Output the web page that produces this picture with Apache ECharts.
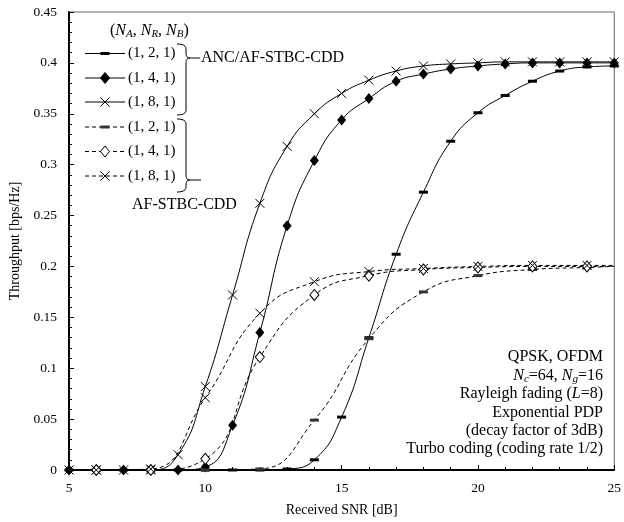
<!DOCTYPE html>
<html><head><meta charset="utf-8">
<script src="https://cdn.jsdelivr.net/npm/echarts@6/dist/echarts.min.js"></script>
<style>html,body{margin:0;padding:0;background:#fff}#c{width:624px;height:522px}</style>
</head><body><div id="c"></div>
<script>
// ---- data ----
const snrANC = [5,6,7,8,9,10,11,12,13,14,15,16,17,18,19,20,21,22,23,24,25];
const anc121 = [0,0,0,0,0,0,0,0,0.001,0.010,0.052,0.130,0.212,0.273,0.323,0.351,0.368,0.382,0.392,0.396,0.397];
const anc141 = [0,0,0,0,0,0.003,0.044,0.135,0.240,0.304,0.344,0.365,0.382,0.389,0.394,0.397,0.399,0.400,0.400,0.400,0.400];
const anc181 = [0,0,0,0,0.015,0.082,0.172,0.262,0.318,0.350,0.370,0.383,0.392,0.397,0.399,0.400,0.401,0.401,0.401,0.401,0.401];
const snrAF = [5,6,8,10,12,14,16,18,20,22,24,25];
const af121 = [0,0,0,0,0.001,0.049,0.129,0.175,0.191,0.197,0.199,0.200];
const af141 = [0,0,0,0.011,0.111,0.172,0.191,0.197,0.199,0.200,0.200,0.200];
const af181 = [0,0,0.001,0.071,0.154,0.185,0.195,0.198,0.200,0.201,0.201,0.201];
const legendLabels = ['(1, 2, 1)', '(1, 4, 1)', '(1, 8, 1)'];
const xTicks = {min:5, max:25, step:5};
const yTicks = {min:0, max:0.45, step:0.05};

const FONT = 'Liberation Serif';
const XSYM = 'path://M0,0 L10,10 M10,0 L0,10';

function mk(name, xs, ys, dashed, sym, size, fill, evenOnly) {
  return {
    name: name, type: 'line', smooth: 0.5,
    showSymbol: true, showAllSymbol: true, symbol: sym, symbolSize: size,
    lineStyle: {color: '#000', width: 1, type: dashed ? [4,3] : 'solid'},
    itemStyle: {color: fill, borderColor: '#000', borderWidth: sym === XSYM ? 1 : (fill === '#fff' ? 1 : 0)},
    emphasis: {disabled: true},
    data: xs.map((x,i) => evenOnly && x % 2 ? {value:[x, ys[i]], symbol:'none'} : [x, ys[i]])
  };
}

const series = [
  mk('ANC (1, 2, 1)', snrANC, anc121, false, 'rect', [9,3], '#000', false),
  mk('ANC (1, 4, 1)', snrANC, anc141, false, 'diamond', [9,11], '#000', false),
  mk('ANC (1, 8, 1)', snrANC, anc181, false, XSYM, 9, '#000', false),
  mk('AF (1, 2, 1)', snrAF, af121, true, 'rect', [9,3], '#333', true),
  mk('AF (1, 4, 1)', snrAF, af141, true, 'diamond', [9,11], '#fff', true),
  mk('AF (1, 8, 1)', snrAF, af181, true, XSYM, 9, '#000', true)
];

// ---- manual legend (key graphics) ----
function legendRow(y, kind, dashed, fill) {
  const els = [{type: 'line', shape: {x1: 85, y1: y, x2: 125, y2: y},
    style: {stroke: '#000', lineWidth: 1, lineDash: dashed ? [4,3] : null}}];
  const cx = 105;
  if (kind === 'rect') {
    els.push({type: 'rect', shape: {x: cx - 4.5, y: y - 1.5, width: 9, height: 3}, style: {fill: fill}});
  } else if (kind === 'diamond') {
    els.push({type: 'polygon', shape: {points: [[cx, y-5.5],[cx+4.5, y],[cx, y+5.5],[cx-4.5, y]]},
      style: {fill: fill, stroke: '#000', lineWidth: 1}});
  } else {
    els.push({type: 'line', shape: {x1: cx-4.5, y1: y-4.5, x2: cx+4.5, y2: y+4.5}, style: {stroke: '#000', lineWidth: 1}});
    els.push({type: 'line', shape: {x1: cx-4.5, y1: y+4.5, x2: cx+4.5, y2: y-4.5}, style: {stroke: '#000', lineWidth: 1}});
  }
  return els;
}
const rowsY = [53.5, 78, 102, 127, 151.5, 176];
const rowKinds = ['rect', 'diamond', 'x'];
const rowFills = [['#000', '#000', '#000'], ['#333', '#fff', '#000']];
let legendEls = [];
rowsY.forEach((y, k) => {
  const g = k < 3 ? 0 : 1, j = k % 3;
  legendEls = legendEls.concat(legendRow(y, rowKinds[j], g === 1, rowFills[g][j]));
  legendEls.push({type: 'text', x: 128, y: y, style: {text: legendLabels[j], fontFamily: FONT, fontSize: 15, fill: '#000', verticalAlign: 'middle'}});
});

function quad(p0, c, p1, n) {
  const pts = [];
  for (let k = 0; k <= n; k++) {
    const t = k / n, a = (1-t)*(1-t), b = 2*(1-t)*t, d = t*t;
    pts.push([a*p0[0] + b*c[0] + d*p1[0], a*p0[1] + b*c[1] + d*p1[1]]);
  }
  return pts;
}
function brace(x0, x1, x2, x3, top, tip, bot) {
  const r = 5;
  let pts = [];
  pts = pts.concat(quad([x0,top],[x1,top],[x1,top+r],6));
  pts = pts.concat(quad([x1,tip-r],[x1,tip],[x2,tip],6));
  pts = pts.concat(quad([x2,tip],[x1,tip],[x1,tip+r],6));
  pts = pts.concat(quad([x1,bot-r],[x1,bot],[x0,bot],6));
  return [
    {type: 'polyline', shape: {points: pts}, style: {fill: null, stroke: '#000', lineWidth: 1}},
    {type: 'line', shape: {x1: x2, y1: tip, x2: x3, y2: tip}, style: {stroke: '#000', lineWidth: 1}}
  ];
}

const chart = echarts.init(document.getElementById('c'), null, {renderer: 'canvas'});
chart.setOption({
  animation: false,
  backgroundColor: '#fff',
  grid: {left: 66, right: 8, top: 12, bottom: 50, show: true, borderColor: '#666', borderWidth: 1},
  xAxis: {
    type: 'value', min: xTicks.min, max: xTicks.max, interval: xTicks.step,
    name: 'Received SNR [dB]', nameLocation: 'middle', nameGap: 33,
    nameTextStyle: {fontFamily: FONT, fontSize: 14, color: '#000'},
    axisLine: {show: true, onZero: false, lineStyle: {color: '#000', width: 2}},
    axisTick: {show: true, inside: true, length: 5, lineStyle: {color: '#000'}},
    minorTick: {show: true, splitNumber: 5, length: 3, lineStyle: {color: '#000'}},
    splitLine: {show: false},
    axisLabel: {fontFamily: FONT, fontSize: 13.5, color: '#000', margin: 11}
  },
  yAxis: {
    type: 'value', min: yTicks.min, max: yTicks.max, interval: yTicks.step,
    name: 'Throughput [bps/Hz]', nameLocation: 'middle', nameGap: 47,
    nameTextStyle: {fontFamily: FONT, fontSize: 14, color: '#000'},
    axisLine: {show: true, onZero: false, lineStyle: {color: '#000', width: 2}},
    axisTick: {show: true, inside: true, length: 5, lineStyle: {color: '#000'}},
    minorTick: {show: true, splitNumber: 5, length: 3, lineStyle: {color: '#000'}},
    splitLine: {show: false},
    axisLabel: {fontFamily: FONT, fontSize: 13.5, color: '#000', margin: 12}
  },
  series: series,
  graphic: [].concat(
    legendEls,
    brace(177, 186, 190, 200, 44, 58, 115),
    brace(177, 186, 190, 201, 119, 180, 192),
    [
    {type: 'text', x: 201, y: 58, style: {text: 'ANC/AF-STBC-CDD', fontFamily: FONT, fontSize: 16, fill: '#000', verticalAlign: 'middle'}},
    {type: 'text', x: 132, y: 205, style: {text: 'AF-STBC-CDD', fontFamily: FONT, fontSize: 16, fill: '#000', verticalAlign: 'middle'}},
    {type: 'text', x: 110, y: 21, style: {
      text: '{n|(}{i|N}{s|A}{n|, }{i|N}{s|R}{n|, }{i|N}{s|B}{n|)}',
      rich: {
        n: {fontFamily: FONT, fontSize: 16, lineHeight: 19, fill: '#000'},
        i: {fontFamily: FONT, fontSize: 16, fontStyle: 'italic', lineHeight: 19, fill: '#000'},
        s: {fontFamily: FONT, fontSize: 11, fontStyle: 'italic', lineHeight: 9, verticalAlign: 'bottom', fill: '#000'}
      }
    }},
    {type: 'text', x: 603, y: 348, style: {
      align: 'right',
      text: '{n|QPSK, OFDM}\n{i|N}{s|c}{n|=64, }{i|N}{s|g}{n|=16}\n{n|Rayleigh fading (}{i|L}{n|=8)}\n{n|Exponential PDP}\n{n|(decay factor of 3dB)}\n{n|Turbo coding (coding rate 1/2)}',
      rich: {
        n: {fontFamily: FONT, fontSize: 16, lineHeight: 18.4, fill: '#000', align: 'right'},
        i: {fontFamily: FONT, fontSize: 16, fontStyle: 'italic', lineHeight: 18.4, fill: '#000', align: 'right'},
        s: {fontFamily: FONT, fontSize: 11, fontStyle: 'italic', lineHeight: 9, verticalAlign: 'bottom', fill: '#000', align: 'right'}
      }
    }}
  ])
});
</script></body></html>
